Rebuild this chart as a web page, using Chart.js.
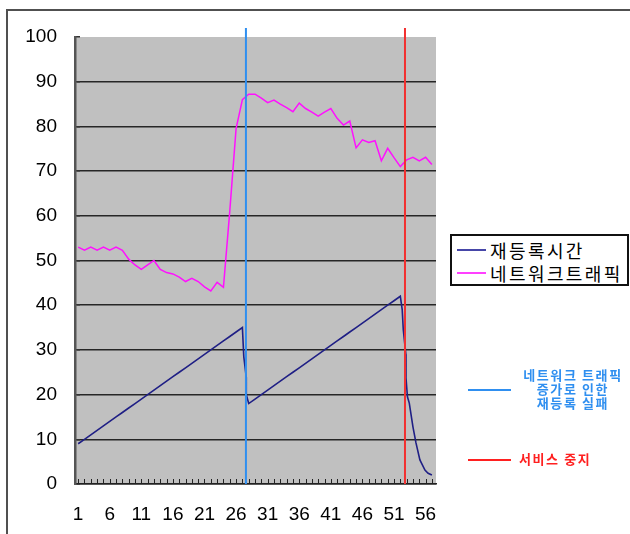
<!DOCTYPE html>
<html>
<head>
<meta charset="utf-8">
<script src="https://cdn.jsdelivr.net/npm/chart.js@4.4.1/dist/chart.umd.min.js"></script>
<style>
  html, body { margin: 0; padding: 0; background: #ffffff; }
  #wrap { position: relative; width: 630px; height: 534px; overflow: hidden; background: #fff; }
  #chart { position: absolute; left: 0; top: 0; }
  #frame { position: absolute; left: 6px; top: 9px; width: 700px; height: 600px;
           border-left: 2px solid #505050; border-top: 2px solid #505050; }
  #legend { position: absolute; left: 450px; top: 234px; width: 175px; height: 48px;
            border: 2px solid #111; background: #fff; font-family: "Noto Sans CJK KR", sans-serif; }
  .lg-row { position: absolute; left: 0; height: 22px; width: 175px; }
  .lg-line { position: absolute; left: 5px; width: 29px; height: 2px; top: 10px; }
  .lg-text { position: absolute; left: 38px; top: 0; font-size: 18px; line-height: 22px;
             letter-spacing: 2.4px; color: #000; white-space: nowrap; }
  .note-line { position: absolute; left: 468px; width: 43px; height: 2px; }
  .note-text { position: absolute; font-family: "Noto Sans CJK KR", sans-serif; font-weight: bold;
               font-size: 13px; line-height: 14px; letter-spacing: 1.6px; white-space: nowrap; }
</style>
</head>
<body>
<div id="wrap">
  <canvas id="chart" width="630" height="534"></canvas>
  <div id="frame"></div>
  <div id="legend"></div>
  <div id="notes"></div>
</div>
<script>
// ---------------- data ----------------
const categories = [1,2,3,4,5,6,7,8,9,10,11,12,13,14,15,16,17,18,19,20,21,22,23,24,25,26,27,28,29,30,
                    31,32,33,34,35,36,37,38,39,40,41,42,43,44,45,46,47,48,49,50,51,52,53,54,55,56,57];
const tickLabels = [1,6,11,16,21,26,31,36,41,46,51,56];
const yTicks = [0,10,20,30,40,50,60,70,80,90,100];

const seriesNames = ['재등록시간', '네트워크트래픽'];

// 네트워크트래픽 (one value per category)
const trafficValues = [53,52.3,53,52.3,53,52.3,53,52.3,50.3,49,48,49,50,48,47.3,47,46.3,45.3,46,45.3,
                       44.1,43.2,45.1,44,61,79.5,86,87.2,87.2,86.3,85.3,85.9,85,84.2,83.3,85.2,84,83.2,82.3,83.2,
                       84,81.8,80.3,81.2,75.2,77,76.4,76.8,72.3,75.1,73,71,72.5,73.1,72.3,73.1,71.5];

// 재등록시간 (positions along the category axis, with the sudden drops in between)
const regTimeX = [1,2,3,4,5,6,7,8,9,10,11,12,13,14,15,16,17,18,19,20,21,22,23,24,25,26,27,
                  27.22,27.6,27.62,
                  28,29,30,31,32,33,34,35,36,37,38,39,40,41,42,43,44,45,46,47,48,49,50,51,52,
                  52.3,52.47,52.88,52.9,53.13,53.42,54.0,54.48,55.1,55.9,56.4,57];
const regTimeY = [9,10,11,12,13,14,15,16,17,18,19,20,21,22,23,24,25,26,27,28,29,30,31,32,33,34,35,
                  28.5,24,20,
                  18,19,20,21,22,23,24,25,26,27,28,29,30,31,32,33,34,35,36,37,38,39,40,41,42,
                  39,34.5,29,23.7,19.5,18.1,12.8,9.2,5.4,3.1,2.4,2.0];

// event markers (vertical lines)
const eventX = [27.56, 52.74];
const eventTop = 102;
const eventNotes = [['네트워크 트래픽', '증가로 인한', '재등록 실패'], ['서비스 중지']];

// ---------------- styles ----------------
const navy = '#1f1f85';
const magenta = '#ff10ff';
const eventColors = ['#2f8ff0', '#f23030'];
const noteColors = ['#2f8ff0', '#ff2020'];

// ---------------- chart ----------------
const plotBg = {
  id: 'plotBg',
  beforeDraw(chart) {
    const { ctx, chartArea: a } = chart;
    ctx.save();
    ctx.fillStyle = '#c0c0c0';
    ctx.fillRect(a.left, a.top, a.right - a.left, a.bottom - a.top);
    ctx.restore();
  }
};

// small inward tick marks on the category axis, placed by the x scale
const innerTicks = {
  id: 'innerTicks',
  beforeDatasetsDraw(chart) {
    const { ctx, chartArea: a, scales } = chart;
    const xs = scales.x;
    ctx.save();
    ctx.strokeStyle = '#222';
    ctx.lineWidth = 1;
    ctx.beginPath();
    xs.ticks.forEach(t => {
      const px = Math.round(xs.getPixelForValue(t.value)) + 0.5;
      ctx.moveTo(px, a.bottom);
      ctx.lineTo(px, a.bottom - 5);
    });
    ctx.stroke();
    ctx.restore();
  }
};

const lineBase = { pointRadius: 0, pointHoverRadius: 0, tension: 0, fill: false };

const datasets = [
  Object.assign({}, lineBase, {
    label: 'event1', data: [{ x: eventX[0], y: 0 }, { x: eventX[0], y: eventTop }],
    borderColor: eventColors[0], borderWidth: 2, clip: false
  }),
  Object.assign({}, lineBase, {
    label: 'event2', data: [{ x: eventX[1], y: 0 }, { x: eventX[1], y: eventTop }],
    borderColor: eventColors[1], borderWidth: 2, clip: false
  }),
  Object.assign({}, lineBase, {
    label: seriesNames[0], data: regTimeX.map((x, i) => ({ x: x, y: regTimeY[i] })),
    borderColor: navy, borderWidth: 1.6
  }),
  Object.assign({}, lineBase, {
    label: seriesNames[1], data: categories.map((c, i) => ({ x: c, y: trafficValues[i] })),
    borderColor: magenta, borderWidth: 1.5
  })
];

const tickFont = { family: '"Liberation Sans", Arial, sans-serif', size: 19 };

new Chart(document.getElementById('chart'), {
  type: 'line',
  data: { datasets: datasets },
  plugins: [plotBg, innerTicks],
  options: {
    responsive: false,
    maintainAspectRatio: false,
    animation: false,
    events: [],
    layout: { padding: { left: 0, top: 37, right: 194, bottom: 0 } },
    plugins: { legend: { display: false }, tooltip: { enabled: false } },
    scales: {
      x: {
        type: 'linear',
        min: 0.5,
        max: 57.65,
        afterBuildTicks: (s) => { s.ticks = categories.map(v => ({ value: v })); },
        afterFit: (s) => { s.height = 50; },
        ticks: {
          autoSkip: false, maxRotation: 0, minRotation: 0,
          font: tickFont, color: '#000', padding: 19,
          callback: (v) => tickLabels.includes(v) ? String(v) : ''
        },
        grid: { drawOnChartArea: false, drawTicks: false },
        border: { display: true, color: '#222', width: 1.5 }
      },
      y: {
        type: 'linear',
        min: 0,
        max: 100,
        afterBuildTicks: (s) => { s.ticks = yTicks.map(v => ({ value: v })); },
        afterFit: (s) => { s.width = 75; },
        ticks: { font: tickFont, color: '#000', padding: 23 },
        grid: {
          color: (c) => (c.tick && c.tick.value === 100) ? 'rgba(0,0,0,0)' : '#262626',
          lineWidth: 1.5, drawTicks: true, tickLength: -5, tickColor: '#333', tickWidth: 1.5
        },
        border: { display: true, color: '#555', width: 2.5 }
      }
    }
  }
});

// ---------------- legend (HTML) ----------------
const legend = document.getElementById('legend');
const legendColors = ['#4646a8', '#ff40ff'];
seriesNames.forEach((name, i) => {
  const row = document.createElement('div');
  row.className = 'lg-row';
  row.style.top = (3 + i * 23) + 'px';
  const ln = document.createElement('div');
  ln.className = 'lg-line';
  ln.style.background = legendColors[i];
  const tx = document.createElement('div');
  tx.className = 'lg-text';
  tx.textContent = name;
  row.appendChild(ln); row.appendChild(tx);
  legend.appendChild(row);
});

// ---------------- event notes (HTML) ----------------
const notes = document.getElementById('notes');
const noteLineY = [389, 459];
const noteTextBox = [{ left: 516, top: 368, width: 114, align: 'center' }, { left: 519, top: 452, width: 110, align: 'left' }];
eventNotes.forEach((lines, i) => {
  const ln = document.createElement('div');
  ln.className = 'note-line';
  ln.style.top = noteLineY[i] + 'px';
  ln.style.background = noteColors[i];
  notes.appendChild(ln);
  const tx = document.createElement('div');
  tx.className = 'note-text';
  tx.style.left = noteTextBox[i].left + 'px';
  tx.style.top = noteTextBox[i].top + 'px';
  tx.style.width = noteTextBox[i].width + 'px';
  tx.style.textAlign = noteTextBox[i].align;
  tx.style.color = noteColors[i];
  tx.innerHTML = lines.join('<br>');
  notes.appendChild(tx);
});
</script>
</body>
</html>
